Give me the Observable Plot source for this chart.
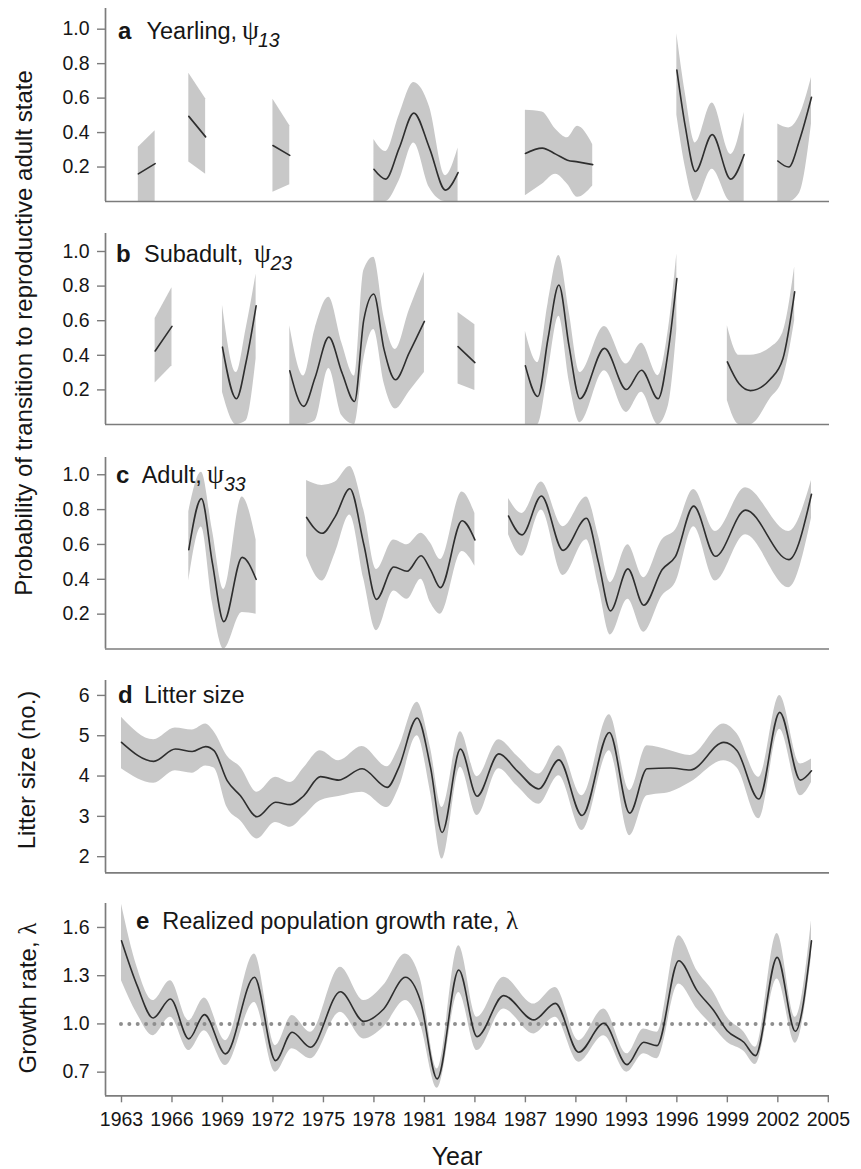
<!DOCTYPE html>
<html>
<head>
<meta charset="utf-8">
<script src="https://cdn.jsdelivr.net/npm/d3@7"></script>
<script src="https://cdn.jsdelivr.net/npm/@observablehq/plot@0.6"></script>
<style>
  body { margin: 0; background: #fff; }
  #wrap { position: relative; width: 861px; height: 1169px; font-family: "Liberation Sans", Arial, sans-serif; }
</style>
</head>
<body>
<div id="wrap"></div>
<script>
// ---------- DATA ----------
// each segment: rows of [year, mean, lower, upper]
const yearlingSegs = [
  [[1964,0.16,0,0.315],[1965,0.22,0,0.41]],
  [[1967,0.494,0.229,0.744],[1968,0.375,0.158,0.596]],
  [[1972,0.325,0.053,0.594],[1973,0.268,0.097,0.44]],
  [[1978,0.187,0,0.36],[1978.7,0.13,0,0.29],[1979.5,0.31,0.12,0.5],[1980.37,0.513,0.34,0.69],[1981.3,0.31,0.08,0.55],[1982.25,0.066,0,0.15],[1983,0.168,0,0.31]],
  [[1987,0.279,0.033,0.53],[1988,0.31,0.1,0.52],[1988.8,0.275,0.158,0.42],[1989.5,0.24,0.1,0.37],[1990.1,0.23,0.024,0.436],[1991,0.214,0.09,0.33]],
  [[1996,0.763,0.5,0.974],[1996.5,0.436,0.2,0.63],[1997.1,0.174,0,0.34],[1998.1,0.388,0.187,0.571],[1999.2,0.13,0,0.273],[2000,0.273,0,0.517]],
  [[2002,0.235,0,0.45],[2002.65,0.2,0,0.427],[2003.3,0.36,0.05,0.5],[2004,0.605,0.45,0.72]]
];
const subadultSegs = [
  [[1965,0.425,0.24,0.613],[1966,0.567,0.34,0.79]],
  [[1969,0.447,0.187,0.69],[1969.83,0.149,0,0.30],[1970.4,0.36,0.02,0.55],[1971,0.686,0.38,0.87]],
  [[1973,0.31,0,0.571],[1973.83,0.105,0,0.28],[1974.5,0.27,0.02,0.55],[1975.32,0.505,0.324,0.735],[1976.1,0.30,0.05,0.47],[1976.85,0.133,0,0.28],[1977.4,0.606,0.377,0.89],[1977.99,0.754,0.549,0.967],[1978.6,0.434,0.24,0.62],[1979.28,0.259,0.09,0.434],[1980.1,0.415,0.19,0.66],[1981,0.596,0.30,0.88]],
  [[1983,0.45,0.234,0.647],[1984,0.358,0.196,0.577]],
  [[1987,0.339,0,0.539],[1987.74,0.162,0,0.358],[1988.35,0.5,0.3,0.7],[1988.99,0.806,0.625,0.977],[1989.6,0.45,0.25,0.65],[1990.24,0.149,0.01,0.30],[1991.7,0.44,0.31,0.567],[1993.0,0.202,0.07,0.349],[1993.9,0.314,0.187,0.469],[1994.89,0.149,0,0.282],[1995.5,0.434,0.11,0.55],[1996,0.844,0.549,0.987]],
  [[1999,0.362,0.139,0.571],[1999.7,0.235,0,0.40],[2000.37,0.196,0,0.40],[2001.56,0.263,0.15,0.444],[2002.3,0.38,0.26,0.53],[2003,0.767,0.6,0.91]]
];
const adultSegs = [
  [[1967,0.57,0.39,0.788],[1967.75,0.863,0.70,1.015],[1968.4,0.494,0.267,0.683],[1969.08,0.157,0,0.342],[1970.17,0.526,0.21,0.873],[1971,0.40,0.2,0.626]],
  [[1974,0.755,0.532,0.967],[1974.92,0.664,0.39,0.939],[1975.7,0.76,0.55,0.958],[1976.57,0.92,0.769,1.047],[1977.4,0.6,0.4,0.797],[1978.15,0.285,0.105,0.456],[1979.18,0.471,0.333,0.626],[1979.97,0.446,0.285,0.598],[1980.8,0.535,0.40,0.664],[1981.36,0.456,0.267,0.608],[1981.95,0.352,0.20,0.513],[1983.24,0.736,0.56,0.901],[1984,0.626,0.475,0.778]],
  [[1986,0.763,0.655,0.863],[1986.8,0.655,0.532,0.778],[1987.95,0.878,0.797,0.958],[1989.24,0.566,0.422,0.702],[1990.63,0.75,0.627,0.873],[1991.35,0.494,0.36,0.645],[1992.05,0.219,0.08,0.38],[1993.09,0.46,0.285,0.598],[1994.03,0.251,0.096,0.409],[1995.13,0.456,0.304,0.627],[1995.92,0.532,0.38,0.683],[1997.0,0.82,0.702,0.915],[1998.29,0.532,0.39,0.674],[2000.08,0.797,0.655,0.926],[2002.65,0.513,0.352,0.674],[2004,0.888,0.75,0.967]]
];
const litterSegs = [
  [[1963,4.836,4.18,5.46],[1964.92,4.365,3.82,4.90],[1966.2,4.67,4.13,5.19],[1967.2,4.61,4.07,5.14],[1968.0,4.73,4.25,5.29],[1968.5,4.63,4.2,5.1],
   [1969.28,3.886,3.22,4.5],[1970.07,3.51,2.89,4.22],[1971.06,2.99,2.44,3.60],[1972.15,3.35,2.85,3.97],[1973.04,3.29,2.73,3.84],[1973.83,3.51,3.0,4.2],
   [1974.82,3.985,3.39,4.63],[1975.91,3.90,3.49,4.38],[1977.3,4.18,3.60,4.73],[1978.79,3.72,3.22,4.23],[1979.48,4.216,3.7,4.7],[1980.57,5.44,5.0,5.83],
   [1981.36,4.22,3.6,4.7],[1982.05,2.60,1.94,3.22],[1983.14,4.67,4.22,5.10],[1984.13,3.50,3.02,3.985],[1985.42,4.55,4.18,4.90],[1986.51,4.13,3.75,4.5],
   [1987.8,3.68,3.30,4.05],[1988.99,4.40,4.01,4.75],[1990.37,3.02,2.65,3.51],[1991.99,5.08,4.63,5.52],[1993.2,3.08,2.52,3.64],[1994.23,4.18,3.51,4.75],
   [1995.62,4.20,3.60,4.63],[1996.8,4.15,3.84,4.51],[1998.79,4.836,4.38,5.29],[1999.58,4.63,4.2,5.05],[2000.87,3.43,2.94,3.97],[2002.11,5.58,5.16,6.0],
   [2003.34,3.90,3.51,4.30],[2004,4.13,3.84,4.42]]
];
const growthSegs = [
  [[1963,1.517,1.269,1.745],[1963.93,1.238,1.062,1.352],[1964.88,1.037,0.927,1.145],[1965.91,1.155,1.041,1.269],[1967.0,0.907,0.834,1.02],
   [1967.93,1.058,0.958,1.161],[1969.18,0.814,0.741,0.896],[1970.9,1.29,1.134,1.435],[1972.15,0.772,0.70,0.865],[1973.14,0.948,0.845,1.052],
   [1974.23,0.855,0.783,0.948],[1976.01,1.20,1.072,1.352],[1977.4,1.016,0.907,1.145],[1978.58,1.093,0.98,1.24],[1979.87,1.29,1.145,1.435],
   [1980.76,1.145,1.0,1.28],[1981.76,0.658,0.6,0.72],[1983.04,1.335,1.196,1.486],[1984.13,0.921,0.834,1.041],[1985.71,1.176,1.093,1.29],
   [1987.5,1.025,0.938,1.124],[1988.78,1.128,1.041,1.227],[1990.17,0.824,0.762,0.896],[1991.66,1.004,0.927,1.093],[1993.04,0.747,0.70,0.814],
   [1994.03,0.886,0.814,0.969],[1994.82,0.865,0.783,0.948],[1996.11,1.393,1.248,1.548],[1997.2,1.207,1.093,1.331],[1998.19,1.083,0.979,1.196],
   [1998.99,0.958,0.886,1.041],[1999.98,0.886,0.83,0.95],[2000.67,0.803,0.747,0.855],[2001.96,1.414,1.28,1.563],[2003.04,0.954,0.88,1.041],
   [2004,1.517,1.42,1.642]]
];
const yearTicks = [1963,1966,1969,1972,1975,1978,1981,1984,1987,1990,1993,1996,1999,2002,2005];
const probTicks = [0.2,0.4,0.6,0.8,1.0];
const litterTicks = [2,3,4,5,6];
const growthTicks = [0.7,1.0,1.3,1.6];
const refLevel = 1.0;
const refSpan = [1963, 2004];
const panelLetters = ["a","b","c","d","e"];
const panelNames = ["Yearling,","Subadult,","Adult,","Litter size","Realized population growth rate, "];
const panelSymbols = ["ψ","ψ","ψ","","λ"];
const panelSubs = ["13","23","33","",""];

// ---------- LAYOUT ----------
const W = 861, ML = 105, MR = 32;
const xDomain = [1962.05, 2005.07];
const AXIS = "#7c7c7c", BAND = "#c8c8c8", LINE = "#2e2e2e", TXT = "#161616";
const FONT = "'Liberation Sans', Arial, sans-serif";
const SERIF = "'Liberation Serif', 'DejaVu Serif', serif";
const TICK_FS = 19.5;

const panels = [
  {segs: yearlingSegs, top: 8,   base: 201,    yDomain: [0, 1.12],    ticks: probTicks,   fmt: ".1f"},
  {segs: subadultSegs, top: 233, base: 424,    yDomain: [0, 1.104],   ticks: probTicks,   fmt: ".1f"},
  {segs: adultSegs,    top: 457, base: 648.5,  yDomain: [0, 1.099],   ticks: probTicks,   fmt: ".1f"},
  {segs: litterSegs,   top: 680, base: 872.3,  yDomain: [1.6, 6.37],  ticks: litterTicks, fmt: "d"},
  {segs: growthSegs,   top: 903, base: 1095.3, yDomain: [0.553, 1.749], ticks: growthTicks, fmt: ".1f", xAxis: true, ref: true}
];

const wrap = document.getElementById("wrap");

panels.forEach(p => {
  const rows = p.segs.flatMap((seg, k) => seg.map(([year, mean, lo, hi]) => ({seg: k, year, mean, lo, hi})));
  const mt = 10, mb = p.xAxis ? 60 : 10;
  const height = p.base - p.top + mt + mb;
  const marks = [
    Plot.areaY(rows, {x: "year", y1: "lo", y2: "hi", z: "seg", fill: BAND, curve: "monotone-x"}),
  ];
  if (p.ref) {
    marks.push(Plot.ruleY([{y: refLevel, x1: refSpan[0], x2: refSpan[1]}],
      {y: "y", x1: "x1", x2: "x2", stroke: "#8e8e8e", strokeWidth: 4, strokeDasharray: "0,8.35", strokeLinecap: "round"}));
  }
  marks.push(
    Plot.lineY(rows, {x: "year", y: "mean", z: "seg", stroke: LINE, strokeWidth: 1.6, curve: "monotone-x"}),
    Plot.ruleX([xDomain[0]], {stroke: AXIS, strokeWidth: 1.7}),
    Plot.ruleY([p.yDomain[0]], {stroke: AXIS, strokeWidth: 1.7}),
    Plot.axisY({ticks: p.ticks, tickFormat: d3.format(p.fmt), tickSize: 8, tickPadding: 8,
      stroke: AXIS, strokeWidth: 1.4, fill: TXT, label: null, fontSize: TICK_FS})
  );
  if (p.xAxis) {
    marks.push(Plot.axisX({ticks: yearTicks, tickFormat: d3.format("d"), tickSize: 7, tickPadding: 9,
      stroke: AXIS, strokeWidth: 1.4, fill: TXT, label: null, fontSize: TICK_FS}));
  }
  const svg = Plot.plot({
    width: W, height,
    marginLeft: ML, marginRight: MR, marginTop: mt, marginBottom: mb,
    x: {domain: xDomain, axis: p.xAxis ? undefined : null},
    y: {domain: p.yDomain},
    style: {fontFamily: FONT, fontSize: TICK_FS + "px", color: TXT, background: "transparent", overflow: "visible"},
    marks
  });
  svg.style.position = "absolute";
  svg.style.left = "0px";
  svg.style.top = (p.top - mt) + "px";
  wrap.appendChild(svg);
});

// ---------- TEXT OVERLAY ----------
const ov = d3.select("#wrap").append("svg")
  .attr("width", W).attr("height", 1169)
  .style("position", "absolute").style("left", "0px").style("top", "0px")
  .attr("font-family", FONT).attr("fill", TXT);

const titlePos = [
  {lx: 118, nx: 146.5, by: 39.3, sx: 242, subx: 258},
  {lx: 116, nx: 144,   by: 261.7, sx: 254, subx: 270.5},
  {lx: 116, nx: 141.7, by: 483.3, sx: 207, subx: 224},
  {lx: 118, nx: 144,   by: 702.7},
  {lx: 136, nx: 162.3, by: 929.3}
];
titlePos.forEach((t, i) => {
  ov.append("text").attr("x", t.lx).attr("y", t.by).attr("font-size", 24).attr("font-weight", "bold").text(panelLetters[i]);
  const name = ov.append("text").attr("x", t.nx).attr("y", t.by).attr("font-size", 23.5).text(panelNames[i]);
  if (i === 4) {
    name.append("tspan").attr("font-family", SERIF).attr("font-size", 25).text(panelSymbols[i]);
  } else if (panelSymbols[i]) {
    ov.append("text").attr("x", t.sx).attr("y", t.by).attr("font-family", SERIF).attr("font-size", 27).text(panelSymbols[i]);
    ov.append("text").attr("x", t.subx).attr("y", t.by + 8).attr("font-size", 19.5).attr("font-style", "italic").text(panelSubs[i]);
  }
});

ov.append("text").attr("transform", "translate(31.5,333) rotate(-90)").attr("text-anchor", "middle")
  .attr("font-size", 24).text("Probability of transition to reproductive adult state");
ov.append("text").attr("transform", "translate(35,770) rotate(-90)").attr("text-anchor", "middle")
  .attr("font-size", 24).text("Litter size (no.)");
const gt = ov.append("text").attr("transform", "translate(36,998) rotate(-90)").attr("text-anchor", "middle")
  .attr("font-size", 24).text("Growth rate, ");
gt.append("tspan").attr("font-family", SERIF).attr("font-size", 25).text("λ");
ov.append("text").attr("x", 457).attr("y", 1165).attr("text-anchor", "middle").attr("font-size", 25).text("Year");
</script>
</body>
</html>
